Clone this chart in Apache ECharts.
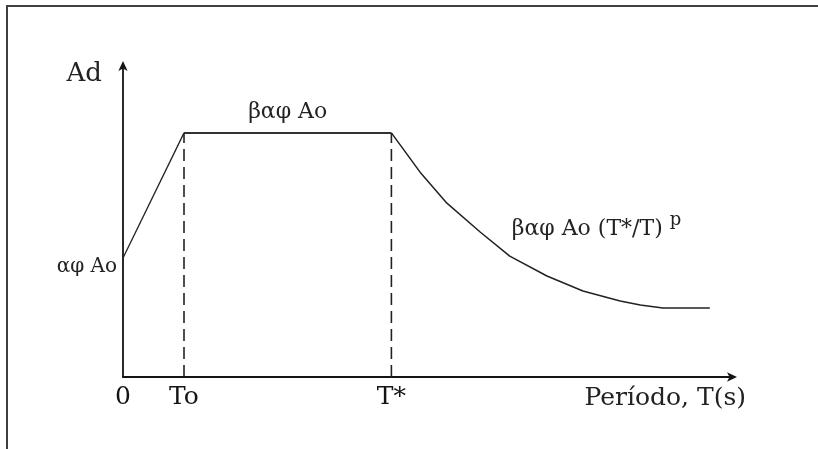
<!DOCTYPE html>
<html>
<head>
<meta charset="utf-8">
<script src="https://cdn.jsdelivr.net/npm/echarts@6/dist/echarts.min.js"></script>
<style>
  html, body { margin: 0; padding: 0; background: #fff; }
  #chart { width: 818px; height: 449px; }
</style>
</head>
<body>
<div id="chart"></div>
<script>
// Design spectrum: pseudo-acceleration Ad versus period T
const periodTo = 1.0;          // end of the linear ramp
const periodTstar = 4.40;      // end of the plateau
const adStart = 1.0;           // αφ Ao at T = 0
const adPlateau = 2.05;        // βαφ Ao

// descending branch βαφ Ao (T*/T)^p, read point by point
const decayT  = [4.40, 4.87, 5.31, 5.85, 6.34, 6.95, 7.54, 8.15, 8.48, 8.85, 9.62];
const decayAd = [2.05, 1.72, 1.46, 1.22, 1.015, 0.848, 0.722, 0.638, 0.605, 0.579, 0.579];

const tickValues = [0, periodTo, periodTstar];
const tickLabels = ['0', 'To', 'T*'];

const xMax = 10;
const yMax = 2.62;

const FONT = 'DejaVu Serif';
const INK = '#141414';

const rampData = [[0, adStart], [periodTo, adPlateau]];
const plateauData = [[periodTo, adPlateau], [periodTstar, adPlateau]];
const decayData = decayT.map((t, i) => [t, decayAd[i]]);

const dashStyle = { color: '#222', width: 1.6, type: [12, 6] };

const chart = echarts.init(document.getElementById('chart'), null, { renderer: 'canvas' });

chart.setOption({
  backgroundColor: '#ffffff',
  animation: false,
  graphic: [{
    type: 'rect',
    shape: { x: 7, y: 6, width: 1000, height: 1000 },
    style: { fill: 'none', stroke: '#404040', lineWidth: 2 },
    silent: true
  }],
  grid: { left: 123, right: 85, top: 65, bottom: 72 },
  xAxis: {
    type: 'value',
    min: 0,
    max: xMax,
    splitLine: { show: false },
    axisTick: { show: false },
    axisLine: {
      lineStyle: { color: INK, width: 1.8 },
      symbol: ['none', 'arrow'],
      symbolSize: [7, 10],
      symbolOffset: [0, 4]
    },
    axisLabel: {
      customValues: tickValues,
      formatter: v => tickLabels[tickValues.indexOf(v)] ?? '',
      fontFamily: FONT,
      fontSize: 25,
      color: INK,
      margin: 8
    },
    name: 'Período, T(s)',
    nameLocation: 'end',
    nameGap: 13,
    nameTextStyle: {
      fontFamily: FONT,
      fontSize: 25,
      color: '#222',
      align: 'right',
      verticalAlign: 'top',
      padding: [9, 0, 0, 0]
    }
  },
  yAxis: {
    type: 'value',
    min: 0,
    max: yMax,
    splitLine: { show: false },
    axisTick: { show: false },
    axisLabel: { show: false },
    axisLine: {
      lineStyle: { color: INK, width: 1.8 },
      symbol: ['none', 'arrow'],
      symbolSize: [7, 10],
      symbolOffset: [0, 4]
    },
    name: 'Ad',
    nameLocation: 'end',
    nameGap: -9,
    nameTextStyle: {
      fontFamily: FONT,
      fontSize: 26,
      color: '#222',
      align: 'right',
      verticalAlign: 'middle',
      padding: [0, 21, 0, 0]
    }
  },
  series: [
    {
      name: 'ramp',
      type: 'line',
      data: rampData,
      symbol: 'none',
      lineStyle: { color: '#222', width: 1.3 },
      markPoint: {
        symbol: 'circle',
        symbolSize: 0,
        data: [{
          coord: rampData[0],
          label: {
            show: true,
            formatter: 'αφ Ao',
            position: 'left',
            distance: 6,
            offset: [0, 9],
            fontFamily: FONT,
            fontSize: 20,
            color: '#222'
          }
        }]
      }
    },
    {
      name: 'plateau',
      type: 'line',
      data: plateauData,
      symbol: 'none',
      lineStyle: { color: '#333', width: 2 },
      markPoint: {
        symbol: 'circle',
        symbolSize: 0,
        data: [{
          coord: [(periodTo + periodTstar) / 2, adPlateau],
          label: {
            show: true,
            formatter: 'βαφ Ao',
            position: 'top',
            distance: 10,
            fontFamily: FONT,
            fontSize: 22,
            color: '#222'
          }
        }]
      }
    },
    {
      name: 'decay',
      type: 'line',
      data: decayData,
      symbol: 'none',
      lineStyle: { color: '#222', width: 1.5 },
      markPoint: {
        symbol: 'circle',
        symbolSize: 0,
        data: [{
          coord: decayData[4],
          label: {
            show: true,
            formatter: '{m|βαφ Ao (T*/T)}{p|p}',
            position: 'right',
            distance: 2,
            offset: [0, -27],
            rich: {
              m: { fontFamily: FONT, fontSize: 22, color: '#222' },
              p: { fontFamily: FONT, fontSize: 18, color: '#222', padding: [0, 0, 18, 7] }
            }
          }
        }]
      }
    },
    {
      name: 'To line',
      type: 'line',
      data: [[periodTo, 0], [periodTo, adPlateau]],
      symbol: 'none',
      lineStyle: dashStyle
    },
    {
      name: 'T* line',
      type: 'line',
      data: [[periodTstar, 0], [periodTstar, adPlateau]],
      symbol: 'none',
      lineStyle: dashStyle
    }
  ]
});
</script>
</body>
</html>
